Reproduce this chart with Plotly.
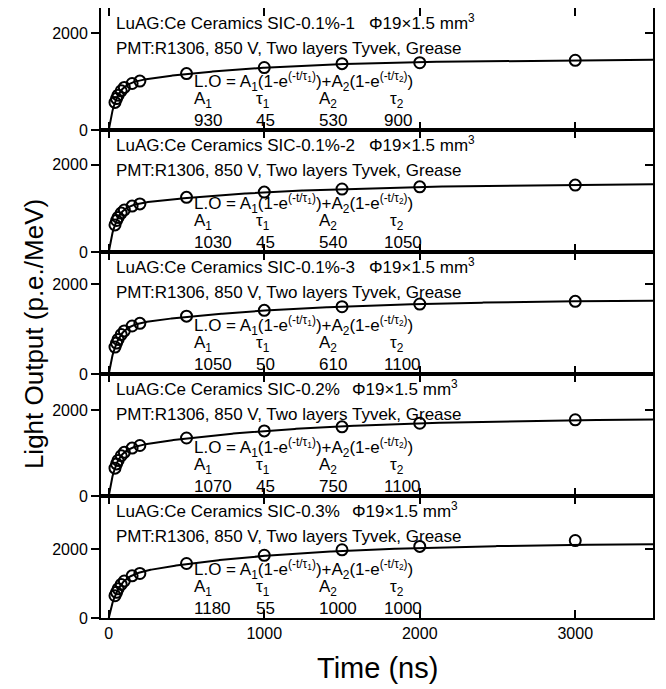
import numpy as np
import plotly.graph_objects as go

# ---------------- data ----------------
times = [40, 50, 60, 80, 100, 150, 200, 500, 1000, 1500, 2000, 3000]

lo_01_1 = [570, 650, 720, 810, 880, 960, 1010, 1165, 1290, 1370, 1390, 1440]
lo_01_2 = [620, 720, 790, 890, 960, 1050, 1100, 1250, 1370, 1440, 1490, 1530]
lo_01_3 = [600, 690, 770, 880, 960, 1070, 1130, 1290, 1420, 1500, 1560, 1620]
lo_02 = [650, 750, 830, 940, 1020, 1120, 1180, 1355, 1520, 1615, 1700, 1780]
lo_03 = [650, 750, 850, 980, 1080, 1230, 1300, 1590, 1830, 1990, 2090, 2260]

sample_names = ["SIC-0.1%-1", "SIC-0.1%-2", "SIC-0.1%-3", "SIC-0.2%", "SIC-0.3%"]
A1 = [930, 1030, 1050, 1070, 1180]
tau1 = [45, 45, 50, 45, 55]
A2 = [530, 540, 610, 750, 1000]
tau2 = [900, 1050, 1100, 1100, 1000]
y_max = [2520, 2790, 2720, 2850, 3560]

x_ticks = [0, 1000, 2000, 3000]
y_ticks = [0, 2000]

series = [lo_01_1, lo_01_2, lo_01_3, lo_02, lo_03]

FONT = "Liberation Sans, Arial, sans-serif"
n = 5
fig = go.Figure()

t_fit = np.linspace(0, 3500, 600)

annotations = []
for i in range(n):
    k = i + 1
    xa = "x" if k == 1 else f"x{k}"
    ya = "y" if k == 1 else f"y{k}"
    yr = f"y{k + n}"
    # fit curve evaluated from the printed fit parameters
    fit = A1[i] * (1 - np.exp(-t_fit / tau1[i])) + A2[i] * (1 - np.exp(-t_fit / tau2[i]))
    fig.add_trace(go.Scatter(x=t_fit, y=fit, mode="lines", line=dict(color="black", width=2),
                             xaxis=xa, yaxis=ya, showlegend=False, hoverinfo="skip"))
    fig.add_trace(go.Scatter(x=times, y=series[i], mode="markers",
                             marker=dict(symbol="circle-open", size=11, color="black",
                                         line=dict(width=2, color="black")),
                             xaxis=xa, yaxis=ya, showlegend=False))
    fig.add_trace(go.Scatter(x=[None], y=[None], xaxis=xa, yaxis=yr, showlegend=False))

    top = 1 - i / n
    bot = 1 - (i + 1) / n
    fig.layout[f"xaxis{'' if k == 1 else k}"] = dict(
        domain=[0, 1], anchor=ya, range=[-50, 3500], tickvals=x_ticks,
        ticks="inside", ticklen=8, tickwidth=1.5, tickcolor="black",
        showline=True, linewidth=2, linecolor="black", mirror="ticks",
        showgrid=False, zeroline=False, showticklabels=(k == n),
        tickfont=dict(family=FONT, size=16, color="black"))
    fig.layout[f"yaxis{'' if k == 1 else k}"] = dict(
        domain=[bot, top], anchor=xa, range=[0, y_max[i]], tickvals=y_ticks,
        ticks="outside", ticklen=8, tickwidth=1.5, tickcolor="black",
        showline=True, linewidth=2, linecolor="black", mirror=True,
        showgrid=False, zeroline=False,
        tickfont=dict(family=FONT, size=16, color="black"))
    fig.layout[f"yaxis{k + n}"] = dict(
        overlaying=ya, side="right", anchor=xa, range=[0, y_max[i]], tickvals=y_ticks,
        ticks="inside", ticklen=8, tickwidth=1.5, tickcolor="black",
        showline=False, showgrid=False, zeroline=False, showticklabels=False)

    yd = f"y{'' if k == 1 else k} domain"
    fs = 17

    def ann(x, y, text):
        annotations.append(dict(x=x, y=y, xref=xa, yref=yd, text=text, showarrow=False,
                                xanchor="left", yanchor="middle", borderpad=0,
                                font=dict(family=FONT, size=fs, color="black")))
    ann(40, 0.875, f"LuAG:Ce Ceramics {sample_names[i]}")
    phi_x = 1670 if i < 3 else 1560
    ann(phi_x, 0.885, "Φ19×1.5 mm<sup>3</sup>")
    ann(40, 0.67, "PMT:R1306, 850 V, Two layers Tyvek, Grease")
    ann(540, 0.40, "L.O = A<sub>1</sub>(1-e<sup>(-t/τ<sub>1</sub>)</sup>)+A<sub>2</sub>(1-e<sup>(-t/τ<sub>2</sub>)</sup>)")
    ann(540, 0.245, "A<sub>1</sub>")
    ann(940, 0.245, "τ<sub>1</sub>")
    ann(1343, 0.245, "A<sub>2</sub>")
    ann(1800, 0.245, "τ<sub>2</sub>")
    ann(540, 0.08, str(A1[i]))
    ann(940, 0.08, str(tau1[i]))
    ann(1343, 0.08, str(A2[i]))
    ann(1765, 0.08, str(tau2[i]))

annotations.append(dict(x=-0.12, y=0.465, xref="paper", yref="paper",
                        text="Light Output (p.e./MeV)", textangle=-90, showarrow=False,
                        xanchor="center", yanchor="middle",
                        font=dict(family=FONT, size=26, color="black")))
annotations.append(dict(x=0.5, y=-0.082, xref="paper", yref="paper",
                        text="Time (ns)", showarrow=False,
                        xanchor="center", yanchor="middle",
                        font=dict(family=FONT, size=29, color="black")))

# page body adds an 8px offset, so the figure is sized/placed to compensate
fig.update_layout(width=658, height=681,
                  margin=dict(l=93, r=13, t=0, b=71, autoexpand=False),
                  paper_bgcolor="white", plot_bgcolor="white",
                  annotations=annotations, showlegend=False)

fig.write_html("out.html")
